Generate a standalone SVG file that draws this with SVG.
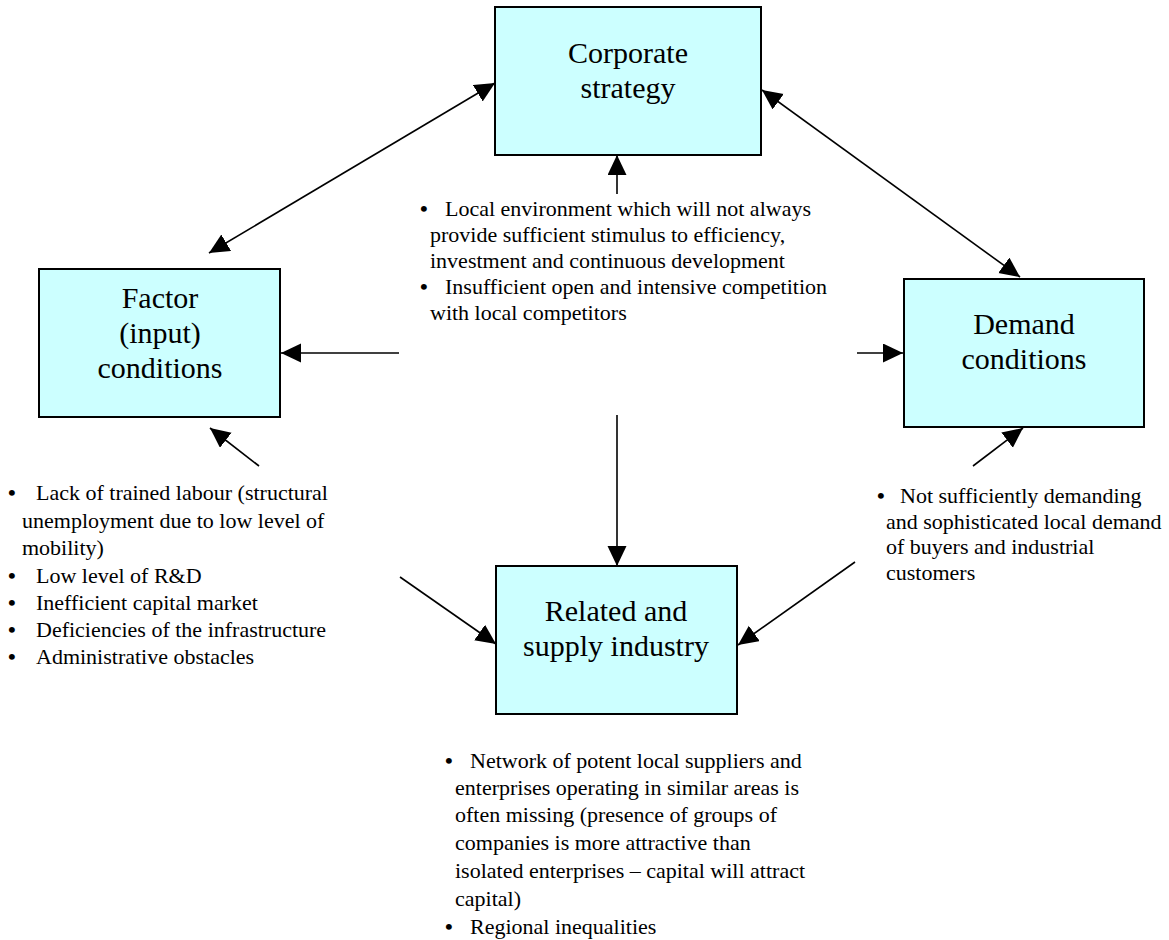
<svg xmlns="http://www.w3.org/2000/svg" width="1169" height="940" viewBox="0 0 1169 940">
<style>
.box{fill:#CCFFFF;stroke:#000;stroke-width:2}
.lbl{font-family:"Liberation Serif","Times New Roman",serif;font-size:30px;fill:#000;text-anchor:middle}
.txt{font-family:"Liberation Serif","Times New Roman",serif;font-size:22px;fill:#000}
.bul{font-weight:bold}
.con{stroke:#000;stroke-width:1.6;fill:none}
</style>
<defs>
<marker id="ah" markerUnits="userSpaceOnUse" markerWidth="21" markerHeight="20" refX="20" refY="9.5" orient="auto-start-reverse" viewBox="0 0 21 20">
<path d="M0,0 L20,9.5 L0,19 z" fill="#000"/>
</marker>
</defs>
<rect width="1169" height="940" fill="#fff"/>
<g id="connectors">
<line class="con" x1="209" y1="253" x2="495" y2="83" marker-start="url(#ah)" marker-end="url(#ah)"/>
<line class="con" x1="762" y1="90" x2="1020" y2="277" marker-start="url(#ah)" marker-end="url(#ah)"/>
<line class="con" x1="617" y1="194" x2="617" y2="155" marker-end="url(#ah)"/>
<line class="con" x1="399" y1="353" x2="281" y2="353" marker-end="url(#ah)"/>
<line class="con" x1="857" y1="353" x2="903" y2="353" marker-end="url(#ah)"/>
<line class="con" x1="617" y1="415" x2="617" y2="566" marker-end="url(#ah)"/>
<line class="con" x1="259" y1="466" x2="210" y2="428" marker-end="url(#ah)"/>
<line class="con" x1="973" y1="466" x2="1023" y2="428" marker-end="url(#ah)"/>
<line class="con" x1="400" y1="577" x2="496" y2="644" marker-end="url(#ah)"/>
<line class="con" x1="855" y1="562" x2="738" y2="645" marker-end="url(#ah)"/>
</g>
<g id="corporate">
<rect class="box" x="495" y="7" width="266" height="148"/>
<text class="lbl" x="628" y="63">Corporate</text>
<text class="lbl" x="628" y="98">strategy</text>
</g>
<g id="factor">
<rect class="box" x="39" y="269" width="241" height="148"/>
<text class="lbl" x="160" y="308">Factor</text>
<text class="lbl" x="160" y="343">(input)</text>
<text class="lbl" x="160" y="378">conditions</text>
</g>
<g id="demand">
<rect class="box" x="904" y="279" width="240" height="148"/>
<text class="lbl" x="1024" y="334">Demand</text>
<text class="lbl" x="1024" y="369">conditions</text>
</g>
<g id="related">
<rect class="box" x="496" y="566" width="241" height="148"/>
<text class="lbl" x="616" y="621">Related and</text>
<text class="lbl" x="616" y="656">supply industry</text>
</g>
<g id="center-notes" class="txt">
<text class="bul" x="420" y="216">•</text>
<text x="445" y="216">Local environment which will not always</text>
<text x="430" y="242">provide sufficient stimulus to efficiency,</text>
<text x="430" y="268">investment and continuous development</text>
<text class="bul" x="420" y="294">•</text>
<text x="445" y="294">Insufficient open and intensive competition</text>
<text x="430" y="320">with local competitors</text>
</g>
<g id="factor-notes" class="txt">
<text class="bul" x="8" y="500">•</text>
<text x="36" y="500">Lack of trained labour (structural</text>
<text x="22" y="527.5">unemployment due to low level of</text>
<text x="22" y="555">mobility)</text>
<text class="bul" x="8" y="582.5">•</text>
<text x="36" y="582.5">Low level of R&amp;D</text>
<text class="bul" x="8" y="610">•</text>
<text x="36" y="610">Inefficient capital market</text>
<text class="bul" x="8" y="637">•</text>
<text x="36" y="637">Deficiencies of the infrastructure</text>
<text class="bul" x="8" y="664">•</text>
<text x="36" y="664">Administrative obstacles</text>
</g>
<g id="demand-notes" class="txt">
<text class="bul" x="877" y="503">•</text>
<text x="900" y="503">Not sufficiently demanding</text>
<text x="886" y="528.5">and sophisticated local demand</text>
<text x="886" y="554">of buyers and industrial</text>
<text x="886" y="579.5">customers</text>
</g>
<g id="related-notes" class="txt">
<text class="bul" x="445" y="768">•</text>
<text x="470" y="768">Network of potent local suppliers and</text>
<text x="455" y="795">enterprises operating in similar areas is</text>
<text x="455" y="822">often missing (presence of groups of</text>
<text x="455" y="850">companies is more attractive than</text>
<text x="455" y="878">isolated enterprises – capital will attract</text>
<text x="455" y="906">capital)</text>
<text class="bul" x="445" y="934">•</text>
<text x="470" y="934">Regional inequalities</text>
</g>
</svg>
